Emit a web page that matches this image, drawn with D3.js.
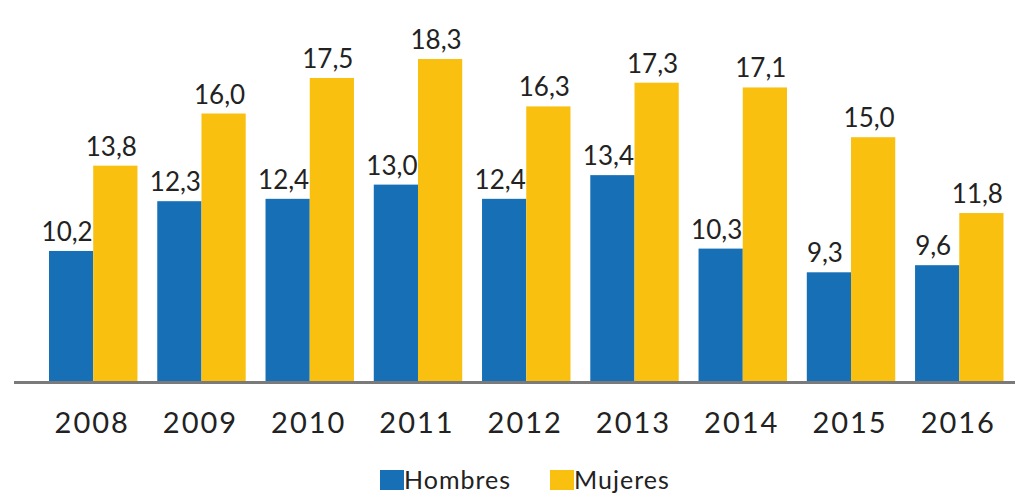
<!DOCTYPE html>
<html>
<head>
<meta charset="utf-8">
<script src="https://cdn.jsdelivr.net/npm/d3@7"></script>
<style>
  body { margin: 0; background: #fff; }
  text { font-family: Lato, "Noto Sans", sans-serif; fill: #222; }
</style>
</head>
<body>
<div id="chart"></div>
<script>
var years = ["2008", "2009", "2010", "2011", "2012", "2013", "2014", "2015", "2016"];
var hombres = [10.2, 12.3, 12.4, 13.0, 12.4, 13.4, 10.3, 9.3, 9.6];
var mujeres = [13.8, 16.0, 17.5, 18.3, 16.3, 17.3, 17.1, 15.0, 11.8];
var seriesNames = ["Hombres", "Mujeres"];
var colors = ["#1770b6", "#f9c010"];

var width = 1015, height = 496;

var svg = d3.select("#chart")
    .append("svg")
    .attr("width", width)
    .attr("height", height);

var x = d3.scaleBand()
    .domain(years)
    .range([49, 1003.5])
    .paddingInner(0.183)
    .paddingOuter(0);

var xSub = d3.scaleBand()
    .domain(seriesNames)
    .range([0, x.bandwidth()]);

// el eje vertical no arranca en cero en el original
var y = d3.scaleLinear()
    .domain([4.65, 18.3])
    .range([382.5, 59]);

var fmt = d3.formatLocale({ decimal: ",", thousands: ".", grouping: [3], currency: ["", ""] }).format(".1f");

var data = years.map(function (yr, i) {
    return { year: yr, values: [hombres[i], mujeres[i]] };
});

var groups = svg.selectAll(".grupo")
    .data(data)
    .enter()
    .append("g")
    .attr("class", "grupo")
    .attr("transform", function (d) { return "translate(" + x(d.year) + ",0)"; });

groups.selectAll("rect")
    .data(function (d) { return d.values.map(function (v, j) { return { key: seriesNames[j], value: v, i: j }; }); })
    .enter()
    .append("rect")
    .attr("x", function (d) { return xSub(d.key); })
    .attr("width", xSub.bandwidth())
    .attr("y", function (d) { return y(d.value); })
    .attr("height", function (d) { return y.range()[0] - y(d.value); })
    .attr("fill", function (d) { return colors[d.i]; });

groups.selectAll(".valor")
    .data(function (d) { return d.values.map(function (v, j) { return { key: seriesNames[j], value: v, i: j }; }); })
    .enter()
    .append("text")
    .attr("class", "valor")
    .attr("x", function (d) { return xSub(d.key) + xSub.bandwidth() / 2 - 4; })
    .attr("y", function (d) { return y(d.value) - 10; })
    .attr("text-anchor", "middle")
    .style("font-size", "26px")
    .text(function (d) { return fmt(d.value); });

// linea base
svg.append("line")
    .attr("x1", 14)
    .attr("x2", width)
    .attr("y1", 382.5)
    .attr("y2", 382.5)
    .attr("stroke", "#7a7a7a")
    .attr("stroke-width", 3);

var xAxis = d3.axisBottom(x).tickSize(0).tickPadding(0);
var gx = svg.append("g")
    .attr("transform", "translate(-1,433)")
    .call(xAxis);
gx.select(".domain").remove();
gx.selectAll("text")
    .attr("dy", 0)
    .style("font-size", "29px")
    .style("letter-spacing", "2px")
    .style("font-family", "Lato, 'Noto Sans', sans-serif")
    .attr("fill", "#222");

// leyenda
var legendX = [380, 550];
var legend = svg.selectAll(".leyenda")
    .data(seriesNames)
    .enter()
    .append("g")
    .attr("class", "leyenda")
    .attr("transform", function (d, i) { return "translate(" + legendX[i] + ",470)"; });

legend.append("rect")
    .attr("width", 24)
    .attr("height", 20)
    .attr("fill", function (d, i) { return colors[i]; });

legend.append("text")
    .attr("x", 24)
    .attr("y", 18.5)
    .style("font-size", "25px")
    .style("letter-spacing", "1px")
    .text(function (d) { return d; });
</script>
</body>
</html>
